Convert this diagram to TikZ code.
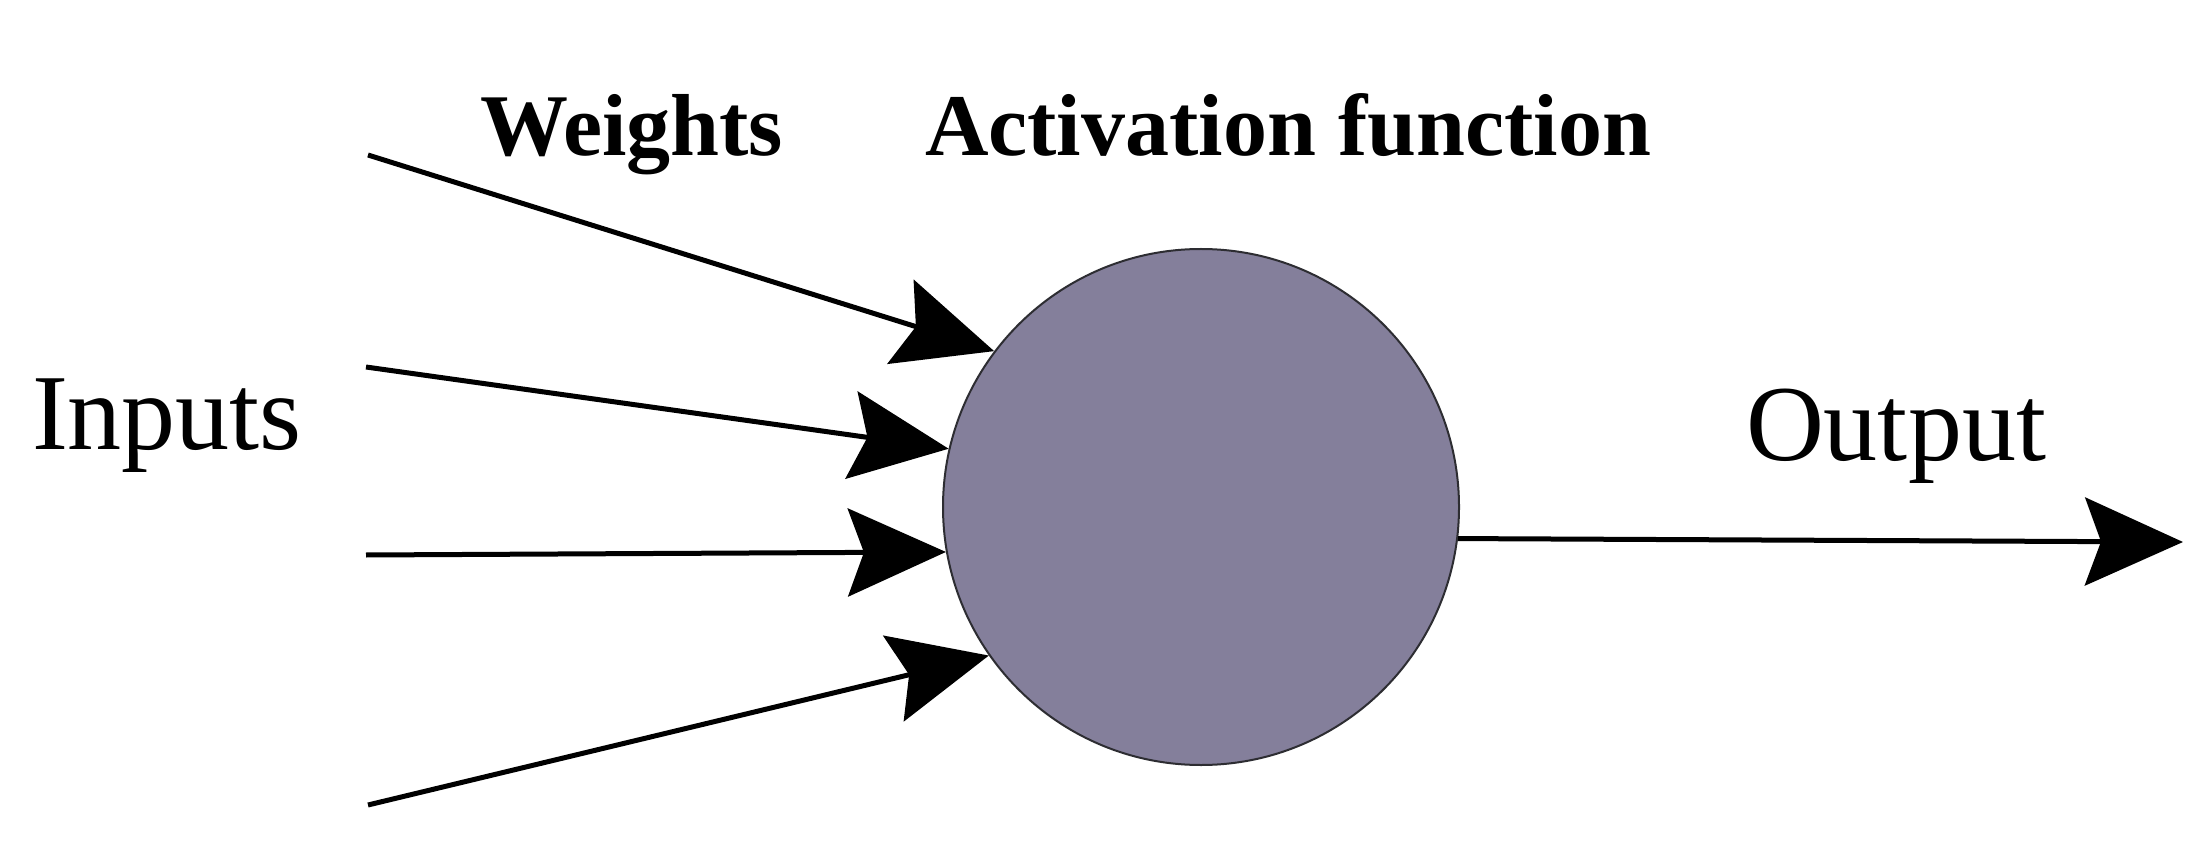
\documentclass[tikz,border=0pt]{standalone}
\usepackage{fontspec}
\setmainfont{Liberation Serif}
\usetikzlibrary{arrows.meta}
\definecolor{neuronfill}{RGB}{132,127,155}
\definecolor{neuronedge}{RGB}{45,45,50}
\tikzset{
  lbl/.style={anchor=base west, inner sep=0pt, outer sep=0pt, text=black},
  bigfont/.style={font=\fontsize{108}{120}\selectfont},
  boldfont/.style={font=\fontsize{88}{100}\selectfont\bfseries},
  conn/.style={line width=5pt, draw=black, -{Stealth[length=98pt,width=88pt,inset=16pt]}},
}
\begin{document}
\begin{tikzpicture}[x=1pt,y=-1pt]
\useasboundingbox (0,0) rectangle (2211,858);
\fill[white] (0,0) rectangle (2211,858);
\node[circle, minimum size=516pt, inner sep=0pt, fill=neuronfill, draw=neuronedge, line width=2pt] (c) at (1201,507) {};
\node[lbl, boldfont] (w) at (480,156) {Weights};
\node[lbl, boldfont] (af) at (925,156) {Activation function};
\node[lbl, bigfont] (in) at (32,449) {Inputs};
\node[lbl, bigfont] (out) at (1746,460) {Output};
\coordinate (i1) at (368,155);
\coordinate (i2) at (366,367);
\coordinate (i3) at (366,555);
\coordinate (i4) at (368,805);
\coordinate (o) at (2183,542);
\draw[conn] (i1) -- (c.143.5);
\draw[conn] (i2) -- (c.167.9);
\draw[conn] (i3) -- (c.190.5);
\draw[conn] (i4) -- (c.215.3);
\draw[conn] (c.-7.7) -- (o);
\end{tikzpicture}
\end{document}
